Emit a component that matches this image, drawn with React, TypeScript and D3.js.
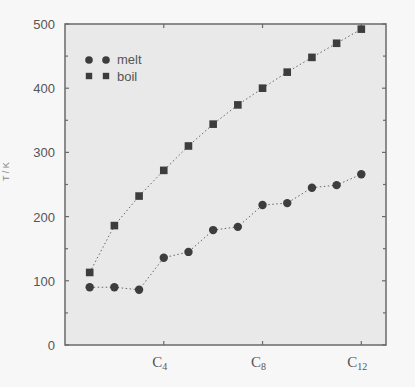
import { useEffect, useRef } from "react"
import * as d3 from "d3"

const carbons = [1, 2, 3, 4, 5, 6, 7, 8, 9, 10, 11, 12]
const meltValues = [90, 90, 86, 136, 145, 179, 184, 218, 221, 245, 249, 266]
const boilValues = [113, 186, 232, 272, 310, 344, 374, 400, 425, 448, 470, 492]
const yTicks = [0, 100, 200, 300, 400, 500]
const yMinorTicks = [50, 150, 250, 350, 450]
const xTicks = [4, 8, 12]

const W = 415
const H = 387
const margin = { top: 24, right: 29, bottom: 42, left: 65 }

export default function App() {
  const ref = useRef<SVGSVGElement>(null)

  useEffect(() => {
    const svg = d3.select(ref.current)
    svg.selectAll("*").remove()

    const x = d3.scaleLinear().domain([0, 13]).range([margin.left, W - margin.right])
    const y = d3.scaleLinear().domain([0, 500]).range([H - margin.bottom, margin.top])
    const ink = "#3d3d3d"
    const frame = "#6a6a6a"

    svg.append("rect").attr("width", W).attr("height", H).attr("fill", "#f7f7f7")

    // plot area
    svg
      .append("rect")
      .attr("x", x(0))
      .attr("y", y(500))
      .attr("width", x(13) - x(0))
      .attr("height", y(0) - y(500))
      .attr("fill", "#e9e9e9")
      .attr("stroke", frame)
      .attr("stroke-width", 1.5)

    // ticks, pointing inwards on every side
    const tk = svg.append("g").attr("stroke", frame).attr("stroke-width", 1.2)
    yTicks.concat(yMinorTicks).forEach((v) => {
      const len = yTicks.includes(v) ? 4 : 3
      tk.append("line").attr("x1", x(0)).attr("x2", x(0) + len).attr("y1", y(v)).attr("y2", y(v))
      tk.append("line").attr("x1", x(13)).attr("x2", x(13) - len).attr("y1", y(v)).attr("y2", y(v))
    })
    xTicks.forEach((v) => {
      tk.append("line").attr("x1", x(v)).attr("x2", x(v)).attr("y1", y(0)).attr("y2", y(0) - 4)
      tk.append("line").attr("x1", x(v)).attr("x2", x(v)).attr("y1", y(500)).attr("y2", y(500) + 4)
    })

    // y labels
    svg
      .append("g")
      .selectAll("text")
      .data(yTicks)
      .join("text")
      .attr("x", x(0) - 10)
      .attr("y", (d) => y(d) + 5)
      .attr("text-anchor", "end")
      .attr("font-family", "Liberation Sans, Arial, sans-serif")
      .attr("font-size", 13)
      .attr("fill", "#555")
      .text((d) => d)

    // x labels with subscripts
    const xl = svg
      .append("g")
      .selectAll("text")
      .data(xTicks)
      .join("text")
      .attr("x", (d) => x(d) - 4)
      .attr("y", y(0) + 22)
      .attr("text-anchor", "middle")
      .attr("font-family", "Liberation Serif, Times New Roman, serif")
      .attr("font-size", 15)
      .attr("fill", "#555")
    xl.append("tspan").text("C")
    xl.append("tspan")
      .attr("font-size", 10)
      .attr("dy", 3)
      .text((d) => d)

    // faint axis title, mostly cut off at the left edge
    svg
      .append("text")
      .attr("transform", `translate(9, ${y(270)}) rotate(-90)`)
      .attr("text-anchor", "middle")
      .attr("font-family", "Liberation Sans, Arial, sans-serif")
      .attr("font-size", 9)
      .attr("fill", "#888")
      .text("T / K")

    const line = d3
      .line<number>()
      .x((_, i) => x(carbons[i]))
      .y((d) => y(d))

    ;[meltValues, boilValues].forEach((vals) => {
      svg
        .append("path")
        .attr("d", line(vals))
        .attr("fill", "none")
        .attr("stroke", "#666")
        .attr("stroke-width", 1)
        .attr("stroke-dasharray", "1.5 2.5")
    })

    svg
      .append("g")
      .selectAll("circle")
      .data(meltValues)
      .join("circle")
      .attr("cx", (_, i) => x(carbons[i]))
      .attr("cy", (d) => y(d))
      .attr("r", 4.2)
      .attr("fill", ink)

    svg
      .append("g")
      .selectAll("rect")
      .data(boilValues)
      .join("rect")
      .attr("x", (_, i) => x(carbons[i]) - 3.8)
      .attr("y", (d) => y(d) - 3.8)
      .attr("width", 7.6)
      .attr("height", 7.6)
      .attr("fill", ink)

    // legend
    const lg = svg.append("g").attr("transform", `translate(${x(0)}, ${y(500)})`)
    ;[24, 41].forEach((cx) => {
      lg.append("circle").attr("cx", cx).attr("cy", 36).attr("r", 3.8).attr("fill", ink)
      lg.append("rect").attr("x", cx - 3.2).attr("y", 48.8).attr("width", 6.4).attr("height", 6.4).attr("fill", ink)
    })
    lg.append("text")
      .attr("x", 52)
      .attr("y", 40)
      .attr("font-family", "Liberation Sans, Arial, sans-serif")
      .attr("font-size", 13)
      .attr("fill", "#555")
      .text("melt")
    lg.append("text")
      .attr("x", 52)
      .attr("y", 57)
      .attr("font-family", "Liberation Sans, Arial, sans-serif")
      .attr("font-size", 13)
      .attr("fill", "#555")
      .text("boil")
  }, [])

  return (
    <svg
      ref={ref}
      width={W}
      height={H}
      viewBox={`0 0 ${W} ${H}`}
      style={{ position: "absolute", left: 0, top: 0, display: "block" }}
    />
  )
}
